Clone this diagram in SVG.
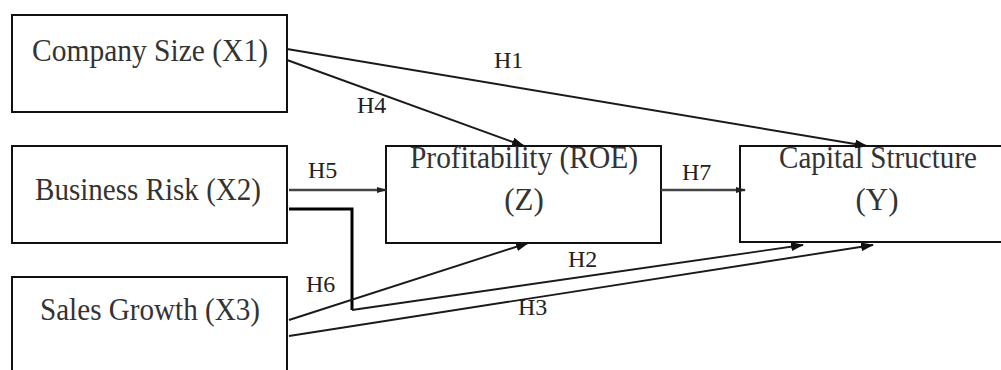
<svg xmlns="http://www.w3.org/2000/svg" width="1001" height="370" viewBox="0 0 1001 370">
<style>
.box{fill:#fff;stroke:#111;stroke-width:2}
.t{font-family:"Liberation Serif","Times New Roman",serif;font-size:31px;fill:#333;text-anchor:middle}
.l{font-family:"Liberation Serif","Times New Roman",serif;font-size:24px;fill:#222}
.c{fill:none;stroke:#1a1a1a;stroke-width:1.9}
.cg{fill:none;stroke:#444;stroke-width:2.5}
.ck{fill:none;stroke:#000;stroke-width:3}
</style>
<defs>
<marker id="ah" markerWidth="13" markerHeight="9" refX="12" refY="4.5" orient="auto" markerUnits="userSpaceOnUse">
<path d="M0,0 L13,4.5 L0,9 Z" fill="#111"/>
</marker>
<marker id="sq" markerWidth="10" markerHeight="8" refX="9" refY="4" orient="auto" markerUnits="userSpaceOnUse">
<path d="M0,1 L10,4 L0,7 Z" fill="#222"/>
</marker>
</defs>
<g id="x1"><rect class="box" x="12" y="15" width="275" height="97"/><text class="t" x="150" y="61" textLength="236" lengthAdjust="spacingAndGlyphs">Company Size (X1)</text></g>
<g id="x2"><rect class="box" x="12" y="146" width="275" height="97"/><text class="t" x="148" y="200" textLength="226" lengthAdjust="spacingAndGlyphs">Business Risk (X2)</text></g>
<g id="x3"><rect class="box" x="12" y="277" width="275" height="110"/><text class="t" x="150" y="320" textLength="220" lengthAdjust="spacingAndGlyphs">Sales Growth (X3)</text></g>
<g id="z"><rect class="box" x="386" y="146" width="275" height="97"/><text class="t" x="524" y="168" textLength="228" lengthAdjust="spacingAndGlyphs">Profitability (ROE)</text><text class="t" x="524" y="210">(Z)</text></g>
<g id="y"><rect class="box" x="740" y="146" width="275" height="96"/><text class="t" x="878" y="168" textLength="198" lengthAdjust="spacingAndGlyphs">Capital Structure</text><text class="t" x="877" y="210">(Y)</text></g>
<g id="connectors">
<path class="c" d="M287,49 L867,146" marker-end="url(#ah)"/>
<path class="c" d="M287,60 L524,146" marker-end="url(#ah)"/>
<path class="cg" d="M289,190 L386,190" marker-end="url(#sq)"/>
<path class="cg" d="M661,190 L745,190" marker-end="url(#sq)"/>
<path class="ck" d="M289,209 L352,209 L352,310"/>
<path class="c" d="M352,310 L803,245" marker-end="url(#ah)"/>
<path class="c" d="M289,336 L873,245" marker-end="url(#ah)"/>
<path class="c" d="M289,320 L528,243" marker-end="url(#ah)"/>
<text class="l" x="494" y="68">H1</text>
<text class="l" x="357" y="113">H4</text>
<text class="l" x="308" y="178">H5</text>
<text class="l" x="682" y="180">H7</text>
<text class="l" x="306" y="292">H6</text>
<text class="l" x="568" y="267">H2</text>
<text class="l" x="518" y="315">H3</text>
</g>
</svg>
